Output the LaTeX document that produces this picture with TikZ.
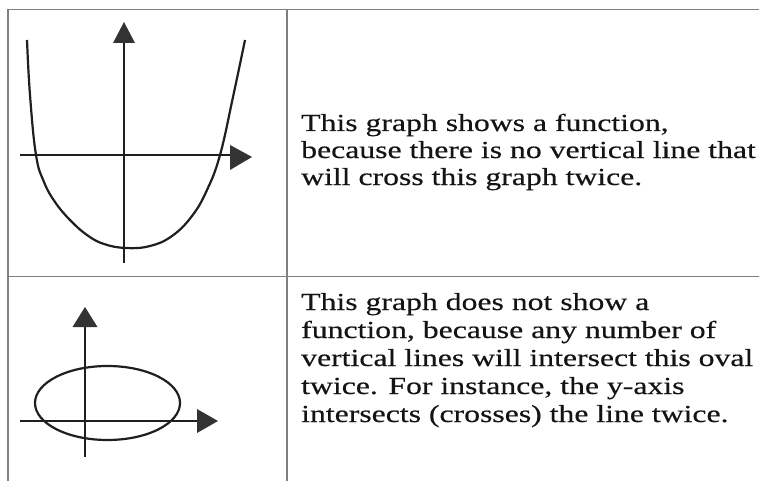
\documentclass[tikz,border=0pt]{standalone}
\usepackage{fontspec}
\setmainfont{Liberation Serif}
\newfontfamily\widefont[FakeStretch=1.295,FakeBold=0.4]{Liberation Serif}
\begin{document}
\begin{tikzpicture}[x=1pt,y=-1pt,
  grid/.style={draw=black!50,line width=1.3pt},
  curve/.style={draw=black!88,line width=2.2pt,line join=round},
  axis/.style={draw=black!88,line width=1.8pt},
  head/.style={fill=black!80,draw=none},
  txt/.style={anchor=base west,inner sep=0pt,font=\widefont\fontsize{24.5}{27}\selectfont,text=black!92}]
\useasboundingbox (0,0) rectangle (759,481);
% table rules
\draw[grid] (8,481) -- (8,9.5) -- (759,9.5);
\draw[grid] (287,9.5) -- (287,481);
\draw[grid] (8,276.5) -- (759,276.5);
% graph 1
\coordinate (y1b) at (124,263);
\coordinate (y1t) at (124,43);
\coordinate (x1l) at (20,155);
\coordinate (x1r) at (230,155);
\draw[axis] (y1b) -- (y1t);
\draw[axis] (x1l) -- (x1r);
\fill[head] (124,22) -- (135,43) -- (113,43) -- cycle;
\fill[head] (252,157) -- (230,145) -- (230,170) -- cycle;
\draw[curve] plot[smooth,tension=0.7] coordinates {(27,40) (30,95) (36,155) (44,182) (55,202) (70,220) (87,235) (104,244) (126,248) (150,246) (172,236) (192,216) (207,190) (220,155) (233,97) (245,40)};
% graph 2
\coordinate (y2b) at (85,457);
\coordinate (y2t) at (85,327);
\coordinate (x2l) at (20,421);
\coordinate (x2r) at (197,421);
\draw[axis] (y2b) -- (y2t);
\draw[axis] (x2l) -- (x2r);
\fill[head] (85,307) -- (97.5,327) -- (72.5,327) -- cycle;
\fill[head] (218,421) -- (197,409) -- (197,433) -- cycle;
\draw[curve] (107.5,403) ellipse [x radius=72.5,y radius=37];
% texts
\node[txt] (a1) at (301,131) {This graph shows a function,};
\node[txt] (a2) at (301,158) {because there is no vertical line that};
\node[txt] (a3) at (301,185) {will cross this graph twice.};
\node[txt] (b1) at (301,310) {This graph does not show a};
\node[txt] (b2) at (301,338) {function, because any number of};
\node[txt] (b3) at (301,366) {vertical lines will intersect this oval};
\node[txt] (b4) at (301,394) {twice. For instance, the y-axis};
\node[txt] (b5) at (301,422) {intersects (crosses) the line twice.};
\end{tikzpicture}
\end{document}
